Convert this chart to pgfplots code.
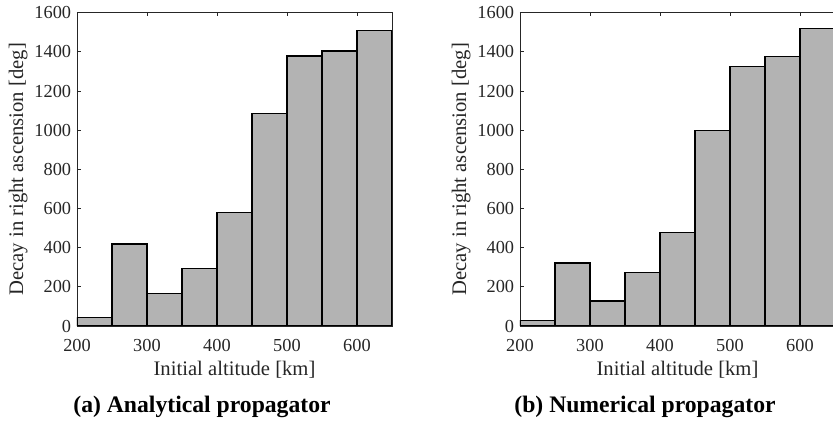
\documentclass[border=0pt]{standalone}
\usepackage{pgfplots}
\pgfplotsset{compat=1.18}
\usepackage{fontspec}
\setmainfont{Liberation Serif}
\definecolor{axgray}{HTML}{262626}
\definecolor{barfill}{HTML}{B3B3B3}
\pgfplotsset{
  histax/.style={
    anchor=south west,
    scale only axis,
    width=189pt, height=188pt,
    xmin=200, xmax=650, ymin=0, ymax=1600,
    xtick={200,300,400,500,600},
    ytick={0,200,...,1600},
    tick align=inside,
    major tick length=2.2pt,
    axis line style={axgray, line width=0.5pt},
    every tick/.style={axgray, line width=0.5pt},
    tick label style={font=\fontsize{11}{13}\selectfont, text=axgray},
    xticklabel style={yshift=-4.5pt},
    label style={font=\fontsize{12.4}{14}\selectfont, text=axgray},
    /pgf/number format/assume math mode=true,
    /pgf/number format/1000 sep={},
    xlabel={Initial altitude [km]},
    ylabel={Decay in right ascension [deg]},
    xlabel style={at={(axis description cs:0.5,-0.138)}, anchor=center},
    ylabel style={at={(axis description cs:-0.187,0.5)}, anchor=center},
  }
}
\begin{document}
\begin{tikzpicture}[x=0.6pt,y=0.6pt]
\path[use as bounding box] (0,0) rectangle (833,425);
\clip (0,0) rectangle (833,425);
\begin{axis}[histax, at={(46.2pt,59.4pt)}]
\addplot[ybar interval, fill=barfill, draw=black, line width=0.8pt]
  coordinates {(200,42) (250,419) (300,165) (350,295) (400,578) (450,1085) (500,1378) (550,1405) (600,1510) (650,1510)};
\end{axis}
\begin{axis}[histax, at={(312pt,59.4pt)}]
\addplot[ybar interval, fill=barfill, draw=black, line width=0.8pt]
  coordinates {(200,29) (250,322) (300,128) (350,274) (400,478) (450,997) (500,1325) (550,1375) (600,1518) (650,1518)};
\end{axis}
\node[font=\fontsize{14.2}{17}\selectfont\bfseries] at (202,18.3) {(a) Analytical propagator};
\node[font=\fontsize{14.2}{17}\selectfont\bfseries] at (645,18.3) {(b) Numerical propagator};
\end{tikzpicture}
\end{document}
